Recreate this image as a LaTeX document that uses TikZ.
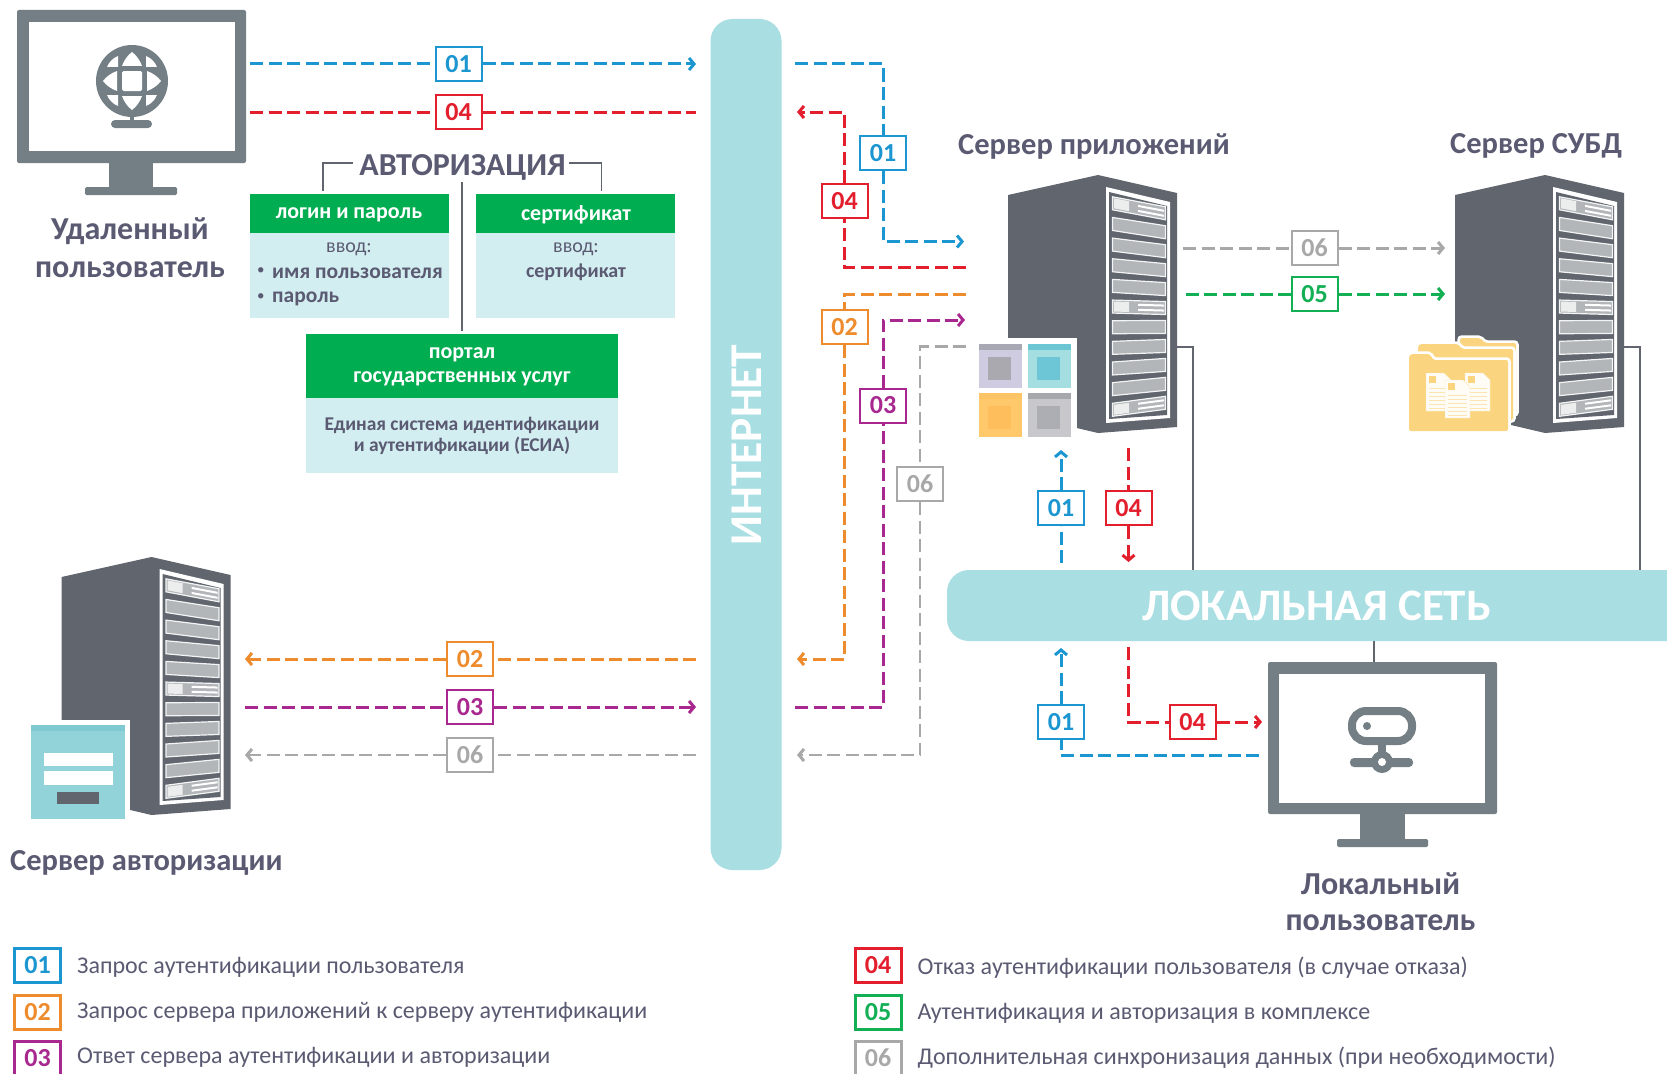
\documentclass[tikz,border=0pt]{standalone}
\usepackage{fontspec}
\setmainfont{Carlito}
\usetikzlibrary{arrows.meta,calc}
\definecolor{cblue}{HTML}{1B96D0}
\definecolor{cred}{HTML}{E31E2D}
\definecolor{corange}{HTML}{EE8B2C}
\definecolor{cpurple}{HTML}{A8288F}
\definecolor{cgrey}{HTML}{A8A8A8}
\definecolor{cgreen}{HTML}{12AF55}
\definecolor{bgreen}{HTML}{00AD50}
\definecolor{lightbox}{HTML}{D3EEF0}
\definecolor{teal}{HTML}{A9DEE3}
\definecolor{txt}{HTML}{5A5A72}
\definecolor{mon}{HTML}{737F85}
\definecolor{srv}{HTML}{60656E}
\definecolor{slot}{HTML}{B2B6B8}
\definecolor{fold}{HTML}{FAD47E}
\definecolor{apanel}{HTML}{92D3DA}
\definecolor{apanelh}{HTML}{7FC9D3}
\newcommand{\fs}[1]{\fontsize{#1}{#1}\selectfont}
\tikzset{
  tagbox/.style={draw=#1,text=#1,fill=white,line width=2pt,minimum width=46pt,minimum height=34pt,inner sep=0pt,font=\fs{26}\bfseries},
  legbox/.style={tagbox=#1,line width=3pt},
  flow/.style={draw=#1,line width=3pt,dash pattern=on 13pt off 5.5pt,line join=miter},
  flowtip/.style={flow=#1,-{Straight Barb[length=5pt,width=12pt,line width=3pt]}},
  heading/.style={text=txt,font=\fs{32}\bfseries,inner sep=0pt,align=center},
  subhead/.style={text=txt,font=\fs{30.5}\bfseries,inner sep=0pt,anchor=west},
  leg/.style={text=txt,font=\fs{24},inner sep=0pt,anchor=west},
  greenhead/.style={text=white,font=\fs{22}\bfseries,inner sep=0pt,align=center},
  bodytxt/.style={text=txt,font=\fs{20}\bfseries,inner sep=0pt,align=center},
  wire/.style={draw=srv,line width=1.6pt},
  folder/.style={rounded corners=2pt,preaction={draw=white,line width=5.5pt},fill=fold},
  serverpic/.pic={
    \fill[srv] (-90,20) -- (0,0) -- (79,18) -- (79,252) -- (0,258) -- (-34,250) -- (-90,236) -- cycle;
    \fill[white] (8,12) -- (72,27) -- (72,243) -- (8,248) -- cycle;
    \fill[srv] (11,17) -- (69,31) -- (69,240) -- (11,244) -- cycle;
    \foreach \i in {0,...,10}{
      \pgfmathsetmacro{\cy}{33.3+19.8*\i}
      \pgfmathsetmacro{\d}{(10-1.7*\i)/2}
      \fill[draw=white!85!slot,line width=1.2pt,fill=slot] (14.5,\cy-\d-6.5) -- (67.5,\cy+\d-6.5) -- (67.5,\cy+\d+6.5) -- (14.5,\cy-\d+6.5) -- cycle;
    }
    \foreach \i in {0,5,10}{
      \pgfmathsetmacro{\cy}{33.3+19.8*\i}
      \pgfmathsetmacro{\d}{(10-1.7*\i)/2}
      \fill[white] (40,\cy-3.5+0.02*\d) -- (66,\cy-3.5+\d) -- (66,\cy-1.5+\d) -- (40,\cy-1.5+0.02*\d) -- cycle;
      \fill[white] (40,\cy+1.5+0.02*\d) -- (66,\cy+1.5+\d) -- (66,\cy+3.5+\d) -- (40,\cy+3.5+0.02*\d) -- cycle;
      \fill[white!75!slot] (16,\cy-\d-5) -- (31,\cy-0.42*\d-5) -- (31,\cy-0.42*\d+5) -- (16,\cy-\d+5) -- cycle;
    }
  }
}
\begin{document}
\begin{tikzpicture}[x=1pt,y=-1pt]
\useasboundingbox (0,0) rectangle (1667,1073);
\fill[white] (0,0) rectangle (1667,1073);

% bars
\node[fill=teal,minimum width=71pt,minimum height=851pt,rounded corners=22pt,inner sep=0pt] (internet) at (746,444.5) {};
\node[rotate=90,text=white,font=\fs{45.5}\bfseries,inner sep=0pt] (internetlabel) at (747,445) {ИНТЕРНЕТ};
\fill[teal] (1667,570) [rounded corners=22pt] -- (947,570) -- (947,641) [sharp corners] -- (1667,641) -- cycle;
\node[text=white,font=\fs{45}\bfseries,inner sep=0pt] (lan) at (1316.5,606) {ЛОКАЛЬНАЯ СЕТЬ};

% remote monitor
\fill[mon,rounded corners=2pt] (17,10) rectangle (246,163);
\fill[white] (28.5,22) rectangle (235,150.5);
\fill[mon] (109,163) rectangle (153,187);
\fill[mon,rounded corners=1.5pt] (85,187) rectangle (177,195);
\begin{scope}[shift={(132,81)}]
  \fill[mon] (0,0) circle (36);
  \fill[mon] (-1.8,30) rectangle (1.8,42);
  \fill[mon,rounded corners=4pt] (-21,39) rectangle (20,47);
  \fill[white,rounded corners=1.5pt] (-10,-10) rectangle (10,10);
  \foreach \a in {0,90,180,270}{
    \begin{scope}[rotate=\a]
      \fill[white] (0,-29) .. controls (4,-26) and (8,-21) .. (10,-15) -- (-10,-15) .. controls (-8,-21) and (-4,-26) .. (0,-29) -- cycle;
      \fill[white] (14,-25) .. controls (19,-23) and (23,-19) .. (25,-14) -- (14,-14) -- cycle;
    \end{scope}
  }
\end{scope}
\node[heading] (remote1) at (130,231) {Удаленный};
\node[heading] (remote2) at (130,270) {пользователь};

% authorisation block
\node[text=txt,font=\fs{32}\bfseries,inner sep=0pt] (auth) at (462.5,167) {АВТОРИЗАЦИЯ};
\coordinate (brL) at (323,190.5);
\coordinate (brLt) at (353,163);
\coordinate (brR) at (601.5,190.5);
\coordinate (brRt) at (569,163);
\coordinate (vT) at (462,182);
\coordinate (vB) at (462,331);
\draw[wire] (brL) |- (brLt);
\draw[wire] (brR) |- (brRt);
\draw[wire] (vT) -- (vB);
\fill[lightbox] (250,233) rectangle (448.5,318);
\fill[lightbox] (476,233) rectangle (675,318);
\fill[lightbox] (306,398) rectangle (618,473);
\fill[bgreen] (250,194) rectangle (448.5,233);
\fill[bgreen] (476,194) rectangle (675,233);
\fill[bgreen] (306,334) rectangle (618,398);
\node[greenhead] (h1) at (349,215) {логин и пароль};
\node[greenhead] (h2) at (576,214.5) {сертификат};
\node[greenhead] (h3a) at (462,355) {портал};
\node[greenhead] (h3b) at (462,378.5) {государственных услуг};
\node[bodytxt,font=\fs{20}] (v1) at (349,249) {ввод:};
\node[bodytxt,font=\fs{15},anchor=west] (b1) at (257,271) {•};
\node[bodytxt,font=\fs{21.5}\bfseries,anchor=west] (i1) at (272,273) {имя пользователя};
\node[bodytxt,font=\fs{15},anchor=west] (b2) at (257,297) {•};
\node[bodytxt,font=\fs{21.5}\bfseries,anchor=west] (i2) at (272,299) {пароль};
\node[bodytxt,font=\fs{20}] (v2) at (576,249) {ввод:};
\node[bodytxt] (c2) at (576,272) {сертификат};
\node[bodytxt,font=\fs{19.5}\bfseries] (e1) at (462,425) {Единая система идентификации};
\node[bodytxt,font=\fs{19.5}\bfseries] (e2) at (462,446) {и аутентификации (ЕСИА)};

% servers
\pic at (1098,175) {serverpic};
\pic at (1545,175) {serverpic};
\pic at (151.5,557) {serverpic};
\node[subhead] (appl) at (958,146) {Сервер приложений};
\node[subhead] (dbl) at (1450,146) {Сервер СУБД};
\node[subhead] (authl) at (10,863) {Сервер авторизации};

% app tiles
\fill[white] (972,338) rectangle (1077,445);
\foreach \x/\y/\m/\h/\c in {979/344/CFCBE0/A8A8B4/A9A9AF,1028/344/A5DEE0/6CC5D2/6DC6D6,979/393/FFC96B/FDC465/FFBE5C,1028/393/C8C8CC/A6A8AC/ACAEB3}{
  \definecolor{tm}{HTML}{\m}\definecolor{th}{HTML}{\h}\definecolor{tc}{HTML}{\c}
  \fill[tm] (\x,\y) rectangle ++(43,44);
  \fill[th] (\x,\y) rectangle ++(43,6);
  \fill[tc] (\x+9,\y+13) rectangle ++(23,23);
}

% folders
\path[folder] (1440,345) -- (1460,345) -- (1460,338) -- (1480,338) -- (1485,343) -- (1516,343) -- (1516,414) -- (1440,414) -- cycle;
\path[folder] (1418,346) -- (1420,344) -- (1438,344) -- (1458,344) -- (1462,349) -- (1513,349) -- (1513,420) -- (1418,420) -- cycle;
\path[folder] (1409,356) -- (1411,354) -- (1430,354) -- (1433,360) -- (1508,360) -- (1508,431) -- (1409,431) -- cycle;
\foreach \x/\y in {1465/373,1426/373,1445/380}{
  \fill[white!92!fold,draw=fold!50!white,line width=.4pt] (\x,\y) -- (\x+18,\y) -- (\x+25,\y+7) -- (\x+25,\y+38) -- (\x,\y+38) -- cycle;
  \fill[fold] (\x+3,\y+3) rectangle ++(7,7);
  \foreach \k in {15,19,...,35} \draw[fold!60!white,line width=.8pt] (\x+3,\y+\k) -- (\x+22,\y+\k);
}

% auth panel
\fill[white] (25,720) rectangle (130,825);
\fill[apanel] (31,725) rectangle (125,819);
\fill[apanelh] (31,725) rectangle (125,731);
\fill[white] (43.5,752.5) rectangle (113,766);
\fill[white] (43.5,771) rectangle (113,785);
\fill[srv] (57,792) rectangle (99,804);

% local monitor
\fill[mon,rounded corners=2pt] (1268,662) rectangle (1497,814);
\fill[white] (1279,674) rectangle (1485,803);
\fill[mon] (1360,814) rectangle (1405,839);
\fill[mon,rounded corners=1.5pt] (1337,839) rectangle (1428,847);
\draw[mon,line width=8pt,rounded corners=14pt] (1352,711) rectangle (1412,741);
\fill[mon] (1367,726) circle (4);
\fill[mon] (1378,744) rectangle (1386,760);
\fill[mon,rounded corners=4pt] (1350,758) rectangle (1413,767);
\fill[mon] (1382,762) circle (11);
\fill[white] (1382,762) circle (4);
\node[heading] (local1) at (1380.5,884) {Локальный};
\node[heading] (local2) at (1380.5,923) {пользователь};

% solid wires
\coordinate (appW) at (1177,347);
\coordinate (appB) at (1193,570);
\coordinate (dbW) at (1623,347);
\coordinate (dbB) at (1640,570);
\coordinate (lanL) at (1374,641);
\coordinate (monT) at (1374,662);
\draw[wire] (appW) -| (appB);
\draw[wire] (dbW) -| (dbB);
\draw[wire] (lanL) -- (monT);

% tag boxes
\node[tagbox=cblue] (a01) at (458.5,64) {01};
\node[tagbox=cred] (a04) at (458.5,112) {04};
\node[tagbox=corange] (b02) at (470,659) {02};
\node[tagbox=cpurple] (b03) at (470,707) {03};
\node[tagbox=cgrey] (b06) at (470,755) {06};
\node[tagbox=cblue] (c01) at (883,153) {01};
\node[tagbox=cred] (c04) at (844.5,201) {04};
\node[tagbox=corange] (c02) at (844.5,327) {02};
\node[tagbox=cpurple] (c03) at (883,405.5) {03};
\node[tagbox=cgrey] (c06) at (920,484) {06};
\node[tagbox=cgrey] (d06) at (1314.5,248) {06};
\node[tagbox=cgreen] (d05) at (1314.5,294) {05};
\node[tagbox=cblue] (e01) at (1061,508) {01};
\node[tagbox=cred] (e04) at (1128.5,508) {04};
\node[tagbox=cblue] (f01) at (1061,722) {01};
\node[tagbox=cred] (f04) at (1192.5,722) {04};

% free ends
\coordinate (p1) at (250,64); \coordinate (p2) at (696,64);
\coordinate (p3) at (250,112); \coordinate (p4) at (696,112);
\coordinate (q1) at (696,659); \coordinate (q2) at (245,659);
\coordinate (q3) at (245,707); \coordinate (q4) at (696,707);
\coordinate (q5) at (696,755); \coordinate (q6) at (245,755);
\coordinate (r1) at (795,64); \coordinate (r2) at (964,241.5);
\coordinate (r3) at (966,267.5); \coordinate (r4) at (797,112);
\coordinate (r5) at (966,294); \coordinate (r6) at (797,659);
\coordinate (r7) at (795,707.5); \coordinate (r8) at (965,320);
\coordinate (r9) at (966,346.5); \coordinate (r10) at (797,755);
\coordinate (s1) at (1183,248); \coordinate (s2) at (1445,248);
\coordinate (s3) at (1185.5,294); \coordinate (s4) at (1445,294);
\coordinate (t1) at (1061,563); \coordinate (t2) at (1061,450);
\coordinate (t3) at (1128.5,448); \coordinate (t4) at (1128.5,562);
\coordinate (u1) at (1259,755); \coordinate (u2) at (1061,648);
\coordinate (u3) at (1128.5,647); \coordinate (u4) at (1262,722);

\draw[flow=cblue] (p1) -- (a01); \draw[flowtip=cblue] (a01) -- (p2);
\draw[flow=cred] (p3) -- (a04); \draw[flow=cred] (a04) -- (p4);
\draw[flow=corange] (q1) -- (b02); \draw[flowtip=corange] (b02) -- (q2);
\draw[flow=cpurple] (q3) -- (b03); \draw[flowtip=cpurple] (b03) -- (q4);
\draw[flow=cgrey,line width=2.6pt] (q5) -- (b06); \draw[flowtip=cgrey,line width=2.6pt] (b06) -- (q6);
\draw[flow=cblue] (r1) -| (c01); \draw[flowtip=cblue] (c01) |- (r2);
\draw[flow=cred] (r3) -| (c04); \draw[flowtip=cred] (c04) |- (r4);
\draw[flow=corange] (r5) -| (c02); \draw[flowtip=corange] (c02) |- (r6);
\draw[flow=cpurple] (r7) -| (c03); \draw[flowtip=cpurple] (c03) |- (r8);
\draw[flow=cgrey,line width=2.6pt] (r9) -| (c06); \draw[flowtip=cgrey,line width=2.6pt] (c06) |- (r10);
\draw[flow=cgrey] (s1) -- (d06); \draw[flowtip=cgrey] (d06) -- (s2);
\draw[flow=cgreen] (s3) -- (d05); \draw[flowtip=cgreen] (d05) -- (s4);
\draw[flow=cblue] (t1) -- (e01); \draw[flowtip=cblue] (e01) -- (t2);
\draw[flow=cred] (t3) -- (e04); \draw[flowtip=cred] (e04) -- (t4);
\draw[flow=cblue] (u1) -| (f01); \draw[flowtip=cblue] (f01) -- (u2);
\draw[flow=cred] (u3) |- (f04); \draw[flowtip=cred] (f04) -- (u4);

% legend
\node[legbox=cblue] (l1) at (37.5,965) {01};
\node[legbox=corange] (l2) at (37.5,1012) {02};
\node[legbox=cpurple] (l3) at (37.5,1058) {03};
\node[legbox=cred] (l4) at (878,965) {04};
\node[legbox=cgreen] (l5) at (878,1012) {05};
\node[legbox=cgrey] (l6) at (878,1058) {06};
\node[leg] (lt1) at (77,967) {Запрос аутентификации пользователя};
\node[leg] (lt2) at (77,1012) {Запрос сервера приложений к серверу аутентификации};
\node[leg] (lt3) at (77,1057) {Ответ сервера аутентификации и авторизации};
\node[leg] (lt4) at (917.5,968) {Отказ аутентификации пользователя (в случае отказа)};
\node[leg] (lt5) at (917.5,1013) {Аутентификация и авторизация в комплексе};
\node[leg] (lt6) at (917.5,1058) {Дополнительная синхронизация данных (при необходимости)};
\end{tikzpicture}
\end{document}
